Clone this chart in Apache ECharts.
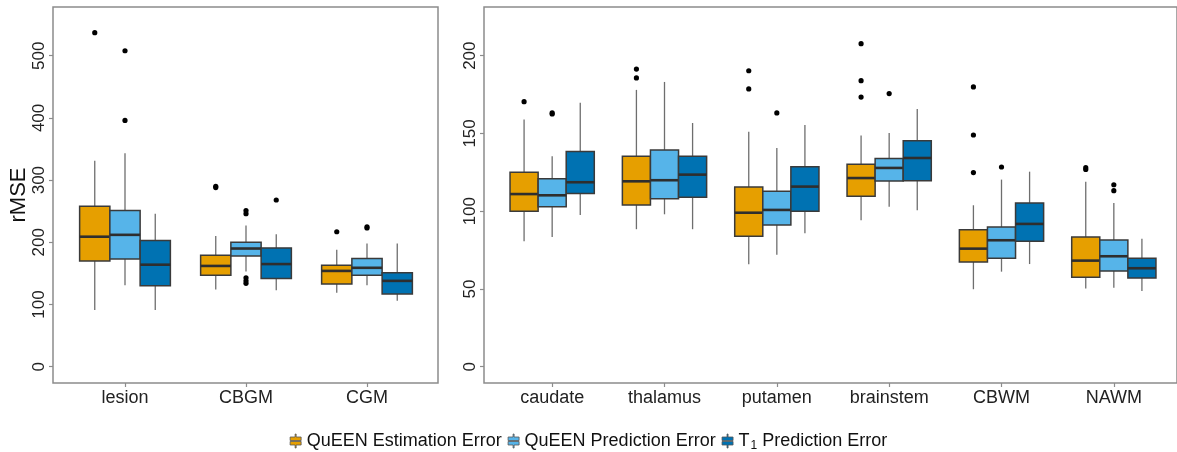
<!DOCTYPE html>
<html>
<head>
<meta charset="utf-8">
<script src="https://cdn.jsdelivr.net/npm/echarts@6/dist/echarts.min.js"></script>
<style>
html,body{margin:0;padding:0;background:#fff;}
#chart{width:1177px;height:452px;}
</style>
</head>
<body>
<div id="chart"></div>
<script>
// ---------- data ----------
const leftCategories = ['lesion', 'CBGM', 'CGM'];
const rightCategories = ['caudate', 'thalamus', 'putamen', 'brainstem', 'CBWM', 'NAWM'];
const seriesNames = ['QuEEN Estimation Error', 'QuEEN Prediction Error', 'T1 Prediction Error'];
const seriesColors = ['#E69F00', '#56B4E9', '#0072B2'];

// [min, q1, median, q3, max]
const estLeft  = [[91, 170, 209, 258, 331], [124, 147, 162, 179, 210], [119, 133, 154, 163, 188]];
const predLeft = [[131, 173, 212, 251, 343], [153, 178, 190, 200, 227], [131, 147, 159, 174, 198]];
const t1Left   = [[91, 130, 164, 203, 246], [123, 142, 165, 191, 213], [106, 117, 138, 151, 198]];
const estLeftOut  = [[537], [290, 288], [217]];
const predLeftOut = [[508, 396], [251, 246, 143, 138, 134], [225, 223]];
const t1LeftOut   = [[], [268], []];

const estRight  = [[80.6, 99.9, 111, 125, 158.9], [88.4, 104, 119.2, 135.3, 178], [65.9, 83.9, 99, 115.6, 151.1],
                   [94.1, 109.6, 121.3, 130.2, 148.6], [49.8, 67.3, 75.9, 88.1, 103.8], [50.2, 57.5, 68.2, 83.4, 119]];
const predRight = [[83.4, 102.9, 110.2, 120.9, 135.3], [98, 108, 119.9, 139.4, 183.1], [72, 91.1, 100.8, 112.8, 140.6],
                   [102.9, 119.4, 127.8, 133.8, 150.3], [61.1, 69.7, 81.3, 89.8, 120.3], [50.8, 61.5, 71, 81.5, 105.3]];
const t1Right   = [[97.6, 111.3, 118.6, 138.3, 169.8], [88.4, 108.9, 123.5, 135.3, 156.7], [85.8, 99.9, 115.8, 128.6, 155.4],
                   [100.6, 119.6, 134.2, 145.3, 165.7], [66, 80.6, 91.8, 105.3, 125.4], [48.7, 57, 63.3, 69.7, 82.3]];
const estRightOut  = [[170.4], [191.4, 185.7], [190.3, 178.6], [207.7, 183.9, 173.4], [179.9, 149, 124.8], [128, 126.8]];
const predRightOut = [[163.2, 162.5], [], [163.2], [175.6], [128.4], [117, 113.2]];
const t1RightOut   = [[], [], [], [], [], []];

const leftTicks = [0, 100, 200, 300, 400, 500];
const rightTicks = [0, 50, 100, 150, 200];

// ---------- helpers ----------
const FONT = 'Liberation Sans, Arial, sans-serif';
const FRAME = '#8c8c8c';

function boxRender(slot, color) {
  return function (params, api) {
    const cat = api.value(0);
    const band = api.size([1, 0])[0];
    const w = band * 0.25;
    const off = (slot - 1) * w;
    const pMin = api.coord([cat, api.value(1)]);
    const pQ1 = api.coord([cat, api.value(2)]);
    const pMed = api.coord([cat, api.value(3)]);
    const pQ3 = api.coord([cat, api.value(4)]);
    const pMax = api.coord([cat, api.value(5)]);
    const x = pMin[0] + off;
    return {
      type: 'group',
      children: [
        { type: 'line', shape: { x1: x, y1: pMax[1], x2: x, y2: pQ3[1] }, style: { stroke: '#6e6e6e', lineWidth: 1.3 } },
        { type: 'line', shape: { x1: x, y1: pQ1[1], x2: x, y2: pMin[1] }, style: { stroke: '#6e6e6e', lineWidth: 1.3 } },
        { type: 'rect', shape: { x: x - w / 2, y: pQ3[1], width: w, height: pQ1[1] - pQ3[1] },
          style: { fill: color, stroke: '#3a3a3a', lineWidth: 1.5 } },
        { type: 'line', shape: { x1: x - w / 2, y1: pMed[1], x2: x + w / 2, y2: pMed[1] },
          style: { stroke: '#2e2e2e', lineWidth: 2.6 } }
      ]
    };
  };
}
function outRender(slot) {
  return function (params, api) {
    const cat = api.value(0);
    const band = api.size([1, 0])[0];
    const w = band * 0.25;
    const p = api.coord([cat, api.value(1)]);
    return { type: 'circle', shape: { cx: p[0] + (slot - 1) * w, cy: p[1], r: 2.6 }, style: { fill: '#000' } };
  };
}
function boxData(stats) { return stats.map((s, i) => [i].concat(s)); }
function outData(outs) {
  const res = [];
  outs.forEach((arr, i) => arr.forEach(v => res.push([i, v])));
  return res;
}

const series = [];
const groups = [
  { xi: 2, yi: 2, stats: [estLeft, predLeft, t1Left], outs: [estLeftOut, predLeftOut, t1LeftOut] },
  { xi: 3, yi: 3, stats: [estRight, predRight, t1Right], outs: [estRightOut, predRightOut, t1RightOut] }
];
groups.forEach(g => {
  for (let s = 0; s < 3; s++) {
    series.push({
      type: 'custom', name: seriesNames[s], xAxisIndex: g.xi, yAxisIndex: g.yi,
      itemStyle: { color: seriesColors[s] },
      renderItem: boxRender(s, seriesColors[s]),
      encode: { x: 0, y: [1, 2, 3, 4, 5] },
      data: boxData(g.stats[s]), z: 3, silent: true
    });
    series.push({
      type: 'custom', name: 'out' + s, xAxisIndex: g.xi, yAxisIndex: g.yi,
      renderItem: outRender(s), encode: { x: 0, y: 1 },
      data: outData(g.outs[s]), z: 4, silent: true
    });
  }
});

const legendIcon = 'path://M5,0 L6,0 L6,3 L11,3 L11,6.5 L0,6.5 L0,3 L5,3 Z M0,7.5 L11,7.5 L11,11 L6,11 L6,14 L5,14 L5,11 L0,11 Z';

const yAxisCommon = {
  type: 'value',
  axisLine: { show: false },
  splitLine: { show: false },
  axisTick: { show: true, length: 4, lineStyle: { color: FRAME, width: 1.2 } },
  axisLabel: { rotate: 90, margin: 5, fontSize: 17, color: '#222', fontFamily: FONT }
};
const xAxisCommon = {
  type: 'category',
  axisLine: { show: false, onZero: false },
  axisTick: { show: true, alignWithLabel: true, length: 4, lineStyle: { color: FRAME, width: 1.2 } },
  axisLabel: { margin: 6, fontSize: 18, color: '#222', fontFamily: FONT },
  splitLine: { show: false }
};

const option = {
  animation: false,
  backgroundColor: '#fff',
  textStyle: { fontFamily: FONT },
  grid: [
    { left: 53, top: 7, width: 385, height: 376, show: true, borderColor: FRAME, borderWidth: 1.5, backgroundColor: 'transparent' },
    { left: 484, top: 7, width: 720, height: 376, show: true, borderColor: FRAME, borderWidth: 1.5, backgroundColor: 'transparent' },
    { left: 64.5, top: 7, width: 363, height: 376 },
    { left: 496, top: 7, width: 674, height: 376 }
  ],
  xAxis: [
    { gridIndex: 0, type: 'value', show: false },
    { gridIndex: 1, type: 'value', show: false },
    Object.assign({}, xAxisCommon, { gridIndex: 2, data: leftCategories }),
    Object.assign({}, xAxisCommon, { gridIndex: 3, data: rightCategories })
  ],
  yAxis: [
    { gridIndex: 0, type: 'value', show: false },
    { gridIndex: 1, type: 'value', show: false },
    Object.assign({}, yAxisCommon, {
      gridIndex: 2, min: -26.2, max: 578.3, offset: 11.5,
      axisTick: Object.assign({}, yAxisCommon.axisTick, { customValues: leftTicks }),
      axisLabel: Object.assign({}, yAxisCommon.axisLabel, { customValues: leftTicks }),
      name: 'rMSE', nameLocation: 'middle', nameRotate: 90, nameGap: 22,
      nameTextStyle: { fontSize: 22, color: '#111', fontFamily: FONT }
    }),
    Object.assign({}, yAxisCommon, {
      gridIndex: 3, min: -10.5, max: 231.3, offset: 12,
      axisTick: Object.assign({}, yAxisCommon.axisTick, { customValues: rightTicks }),
      axisLabel: Object.assign({}, yAxisCommon.axisLabel, { customValues: rightTicks })
    })
  ],
  legend: {
    top: 427,
    left: 'center',
    itemGap: 6,
    itemWidth: 12,
    itemHeight: 14,
    selectedMode: false,
    data: seriesNames.map((n, i) => ({ name: n, icon: legendIcon,
      itemStyle: { color: seriesColors[i], borderColor: '#555', borderWidth: 0.8 } })),
    formatter: function (name) {
      if (name === 'T1 Prediction Error') return '{t|T}{s|1}{t| Prediction Error}';
      return '{t|' + name + '}';
    },
    textStyle: {
      fontSize: 18, color: '#111', fontFamily: FONT,
      rich: {
        t: { fontSize: 18, color: '#111', fontFamily: FONT },
        s: { fontSize: 12, color: '#111', fontFamily: FONT, padding: [9, 0, 0, 1] }
      }
    }
  },
  series: series
};

const chart = echarts.init(document.getElementById('chart'), null, { renderer: 'canvas' });
chart.setOption(option);
</script>
</body>
</html>
